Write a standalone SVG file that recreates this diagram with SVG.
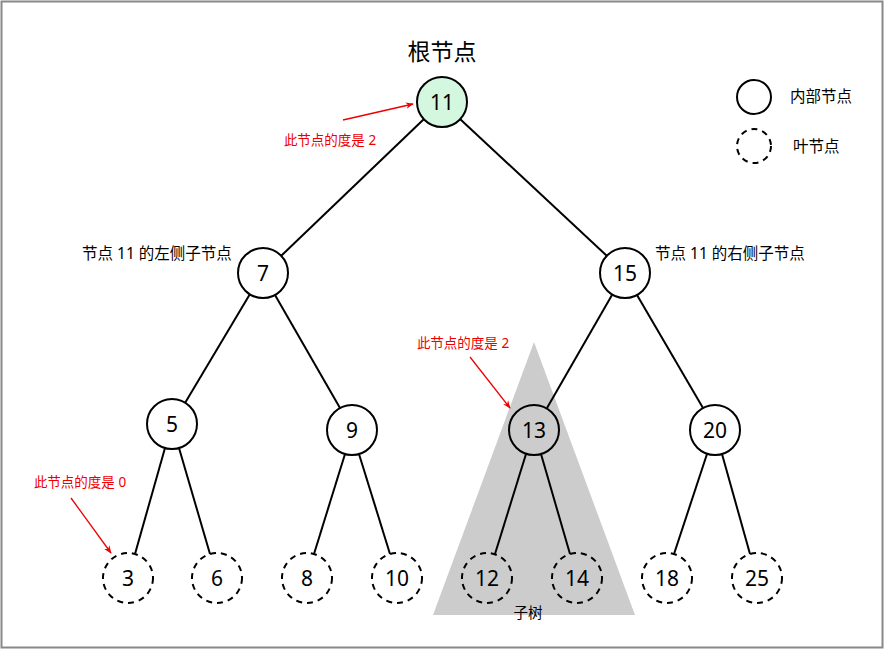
<svg xmlns="http://www.w3.org/2000/svg" width="884" height="649" viewBox="0 0 884 649">
<defs>
<style>
text{font-family:"Noto Sans","Noto Sans CJK SC",sans-serif;fill:#000}
.num{font-size:21px;text-anchor:middle;dominant-baseline:central}
.lbl{font-size:15.5px}
.red{font-size:13.5px;fill:#e00}
.node{fill:none;stroke:#000;stroke-width:2}
.leaf{fill:none;stroke:#000;stroke-width:2;stroke-dasharray:6 5}
.edge{stroke:#000;stroke-width:2;fill:none}
.arr{stroke:#e00;stroke-width:1.3;fill:none;marker-end:url(#ah)}
</style>
<marker id="ah" viewBox="0 0 10 10" refX="9" refY="5" markerWidth="8" markerHeight="8" orient="auto" markerUnits="userSpaceOnUse">
<path d="M0,1 L10,5 L0,9 L3,5 Z" fill="#e00"/>
</marker>
</defs>
<rect x="1.5" y="1.5" width="881" height="646" fill="#fff" stroke="#888" stroke-width="2"/>
<g id="subtree">
<polygon points="534,342 433,615 635,615" fill="#cccccc"/>
<text x="528" y="618" font-size="14.5" text-anchor="middle">子树</text>
</g>
<g id="connectors">
<line class="edge" x1="424" y1="119" x2="281" y2="256"/>
<line class="edge" x1="460" y1="119" x2="607" y2="256"/>
<line class="edge" x1="250" y1="294" x2="185" y2="403"/>
<line class="edge" x1="275" y1="295" x2="340" y2="408"/>
<line class="edge" x1="612" y1="295" x2="547" y2="408"/>
<line class="edge" x1="637" y1="295" x2="703" y2="408"/>
<line class="edge" x1="165" y1="448" x2="135" y2="554"/>
<line class="edge" x1="179" y1="448" x2="210" y2="554"/>
<line class="edge" x1="345" y1="454" x2="314" y2="554"/>
<line class="edge" x1="359" y1="454" x2="390" y2="554"/>
<line class="edge" x1="526" y1="454" x2="495" y2="554"/>
<line class="edge" x1="541" y1="454" x2="570" y2="554"/>
<line class="edge" x1="707" y1="454" x2="674" y2="554"/>
<line class="edge" x1="722" y1="454" x2="750" y2="554"/>
</g>
<g id="n11"><circle cx="442" cy="102" r="25" fill="#d4f7e0" stroke="#000" stroke-width="2"/><text class="num" x="442" y="102">11</text></g>
<g id="n7"><circle class="node" cx="263" cy="273" r="25"/><text class="num" x="263" y="273">7</text></g>
<g id="n15"><circle class="node" cx="625" cy="273" r="25"/><text class="num" x="625" y="273">15</text></g>
<g id="n5"><circle class="node" cx="172" cy="424" r="25"/><text class="num" x="172" y="424">5</text></g>
<g id="n9"><circle class="node" cx="352" cy="430" r="25"/><text class="num" x="352" y="430">9</text></g>
<g id="n13"><circle class="node" cx="534" cy="430" r="25"/><text class="num" x="534" y="430">13</text></g>
<g id="n20"><circle class="node" cx="715" cy="430" r="25"/><text class="num" x="715" y="430">20</text></g>
<g id="n3"><circle class="leaf" cx="128" cy="578" r="25"/><text class="num" x="128" y="578">3</text></g>
<g id="n6"><circle class="leaf" cx="217" cy="578" r="25"/><text class="num" x="217" y="578">6</text></g>
<g id="n8"><circle class="leaf" cx="307" cy="578" r="25"/><text class="num" x="307" y="578">8</text></g>
<g id="n10"><circle class="leaf" cx="397" cy="578" r="25"/><text class="num" x="397" y="578">10</text></g>
<g id="n12"><circle class="leaf" cx="487" cy="578" r="25"/><text class="num" x="487" y="578">12</text></g>
<g id="n14"><circle class="leaf" cx="577" cy="578" r="25"/><text class="num" x="577" y="578">14</text></g>
<g id="n18"><circle class="leaf" cx="667" cy="578" r="25"/><text class="num" x="667" y="578">18</text></g>
<g id="n25"><circle class="leaf" cx="757" cy="578" r="25"/><text class="num" x="757" y="578">25</text></g>
<g id="labels">
<text x="442" y="60" font-size="23" text-anchor="middle">根节点</text>
<text class="lbl" x="82" y="259">节点 11 的左侧子节点</text>
<text class="lbl" x="655" y="259">节点 11 的右侧子节点</text>
</g>
<g id="legend">
<circle class="node" cx="754" cy="97" r="17"/>
<text class="lbl" x="790" y="102">内部节点</text>
<circle class="leaf" cx="754" cy="146" r="17" stroke-dasharray="6 4"/>
<text class="lbl" x="793" y="152">叶节点</text>
</g>
<g id="annotations">
<text class="red" x="330" y="145" text-anchor="middle">此节点的度是 2</text>
<line class="arr" x1="343" y1="120" x2="413" y2="104"/>
<text class="red" x="463" y="348" text-anchor="middle">此节点的度是 2</text>
<line class="arr" x1="470" y1="357" x2="510" y2="408"/>
<text class="red" x="80" y="487" text-anchor="middle">此节点的度是 0</text>
<line class="arr" x1="71" y1="498" x2="111" y2="553"/>
</g>
</svg>
